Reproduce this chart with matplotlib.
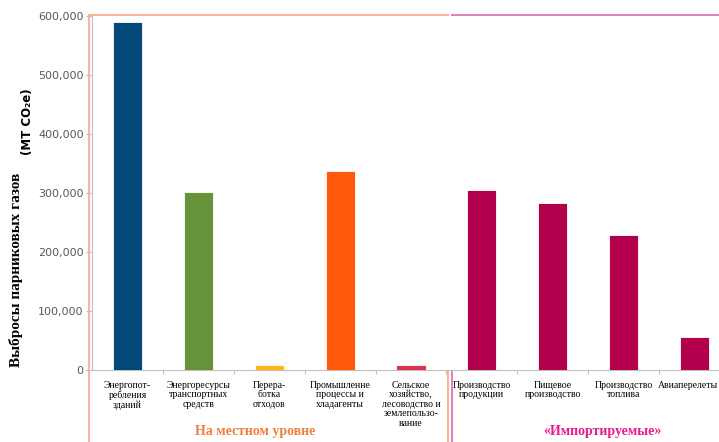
import matplotlib
matplotlib.use("Agg")
import matplotlib.pyplot as plt
from matplotlib.patches import Rectangle
from matplotlib.ticker import FuncFormatter, MultipleLocator
from matplotlib.transforms import ScaledTranslation

#****************************************************************************
# data
#****************************************************************************

categoryL = ["Энергопот-\nребления\nзданий",
             "Энергоресурсы\nтранспортных\nсредств",
             "Перера-\nботка\nотходов",
             "Промышленне\nпроцессы и\nхладагенты",
             "Сельское\nхозяйство,\nлесоводство и\nземлепользо-\nвание",
             "Производство\nпродукции",
             "Пищевое\nпроизводство",
             "Производство\nтоплива",
             "Авиаперелеты"]

valueL = [590000, 302000, 8500, 337000, 8500, 305000, 283000, 229000, 56000]

colorL = ["#02497A", "#66933A", "#FDB714", "#FF5A0A", "#DD3350",
          "#B2004D", "#B2004D", "#B2004D", "#B2004D"]

group_labelL = ["На местном уровне", "«Импортируемые»"]

#****************************************************************************

W, H = 719, 442

def fx(px):
    return px / W

def fy(py):
    return 1 - py / H

fig = plt.figure(figsize=(W / 100, H / 100), dpi=100)
fig.patch.set_facecolor("white")

# axes runs a little past the right edge of the picture (clipped, like the source)
ax = fig.add_axes([fx(92), fy(370), (730 - 92) / W, (370 - 16) / H])

xs = list(range(len(valueL)))
ax.bar(xs, valueL, width=0.41, color=colorL, edgecolor="white", linewidth=0.6, zorder=3)

ax.set_xlim(-0.5, 8.5)
ax.set_ylim(0, 600000)

ax.yaxis.set_major_locator(MultipleLocator(100000))
ax.yaxis.set_major_formatter(FuncFormatter(lambda v, p: "{:,.0f}".format(v)))
ax.tick_params(axis="y", colors="#BFBFBF", labelcolor="#595959", labelsize=8,
               length=4, width=0.8, pad=2)

ax.set_xticks(xs)
ax.set_xticklabels(categoryL, fontfamily="Liberation Serif", fontsize=7,
                   linespacing=1.05, va="top")
ax.set_xticks([x + 0.5 for x in xs], minor=True)
ax.tick_params(axis="x", which="major", length=0, pad=8)
ax.tick_params(axis="x", which="minor", length=3, color="#BFBFBF", width=0.8)

# last label sits against the picture edge, pull it left a bit
last = ax.get_xticklabels()[-1]
last.set_transform(last.get_transform() +
                   ScaledTranslation(-7 / 100, 0, fig.dpi_scale_trans))

for side in ["top", "right"]:
    ax.spines[side].set_visible(False)
for side in ["left", "bottom"]:
    ax.spines[side].set_color("#BFBFBF")
    ax.spines[side].set_linewidth(0.8)

#-------------------------------------------------------
# axis title (two pieces, serif + sans)
#-------------------------------------------------------
fig.text(fx(16), fy(270), "Выбросы парниковых газов", rotation=90,
         ha="center", va="center", fontfamily="Liberation Serif",
         fontweight="bold", fontsize=11, color="black")
fig.text(fx(27), fy(122), "(MT CO₂e)", rotation=90,
         ha="center", va="center", fontfamily="DejaVu Sans",
         fontweight="bold", fontsize=8.5, color="black")

#-------------------------------------------------------
# group boxes + labels
#-------------------------------------------------------
fig.add_artist(Rectangle((fx(89), fy(450)), (448 - 89) / W, (450 - 15) / H,
                         transform=fig.transFigure, fill=False,
                         edgecolor="#F9B49A", linewidth=1.5, zorder=0))
fig.add_artist(Rectangle((fx(452), fy(450)), (730 - 452) / W, (450 - 15) / H,
                         transform=fig.transFigure, fill=False,
                         edgecolor="#E283BD", linewidth=1.5, zorder=0))

fig.text(fx(255), fy(431), group_labelL[0], ha="center", va="center",
         fontfamily="Liberation Serif", fontweight="bold", fontsize=10,
         color="#F07D3A")
fig.text(fx(602), fy(431), group_labelL[1], ha="center", va="center",
         fontfamily="Liberation Serif", fontweight="bold", fontsize=10,
         color="#E8198A")

fig.savefig("out.png", dpi=100)
